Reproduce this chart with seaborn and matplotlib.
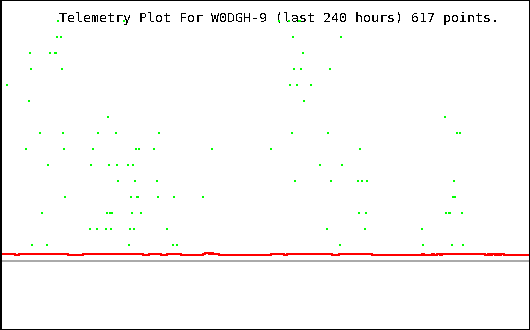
import matplotlib
matplotlib.use("Agg")
import matplotlib.pyplot as plt
import seaborn as sns
import pandas as pd

# ---- data -------------------------------------------------------------
title = "Telemetry Plot For W0DGH-9 (last 240 hours) 617 points."
hours_span = 240

# green sample points: hour position and level
green_hours = [
    26.3, 56.2, 126.3, 130.9, 135.4, 135.8,                 # level 15
    25.8, 27.6, 132.7, 154.4,                               # level 14
    13.6, 22.6, 24.9, 25.4, 137.2,                          # level 13
    14.0, 28.1, 133.1, 136.3, 149.4,                        # level 12
    3.2, 131.3, 134.5, 140.8,                               # level 11
    13.1, 137.7,                                            # level 10
    48.9, 201.5,                                            # level 9
    18.1, 28.5, 44.4, 52.5, 72.0, 132.2, 148.5, 206.9, 208.3,  # level 8
    11.8, 29.0, 42.1, 61.6, 62.9, 69.7, 96.0, 122.7, 163.0,    # level 7
    21.7, 41.2, 49.4, 53.0, 58.0, 60.2, 144.9, 154.9,          # level 6
    53.4, 61.1, 71.1, 133.6, 149.9, 162.1, 163.9, 166.2, 205.6,  # level 5
    29.4, 59.3, 62.0, 62.5, 71.5, 78.8, 91.9, 205.1, 206.0,      # level 4
    19.0, 48.5, 49.8, 50.7, 59.8, 63.8, 162.6, 165.7, 202.0, 203.3, 203.8, 209.2,  # level 3
    40.8, 43.9, 48.0, 50.3, 58.9, 60.7, 75.6, 148.1, 165.3, 191.1,  # level 2
    14.5, 21.3, 58.4, 78.3, 80.2, 154.0, 191.5, 204.7, 209.7,       # level 1
]
green_level = (
    [15] * 6 + [14] * 4 + [13] * 5 + [12] * 5 + [11] * 4 + [10] * 2 + [9] * 2
    + [8] * 9 + [7] * 9 + [6] * 8 + [5] * 9 + [4] * 9 + [3] * 12 + [2] * 10 + [1] * 9
)

# red trace: step change points (hour, value)
red_hours = [0, 6.8, 8.6, 30.8, 37.6, 64.8, 67.5, 72.9, 75.6, 82.0, 91.9, 92.8,
             94.6, 95.5, 96.5, 99.2, 122.7, 128.6, 130.0, 150.3, 153.5, 168.5,
             191.1, 192.0, 195.6, 196.5, 197.9, 199.2, 200.2, 219.6, 221.0,
             221.9, 222.8, 224.2, 225.1, 226.0, 226.9, 228.2, 240]
red_value = [0.44, 0.38, 0.44, 0.38, 0.44, 0.38, 0.44, 0.38, 0.44, 0.38, 0.44, 0.50,
             0.44, 0.50, 0.44, 0.38, 0.44, 0.38, 0.44, 0.38, 0.44, 0.38,
             0.44, 0.38, 0.44, 0.38, 0.44, 0.38, 0.44, 0.38, 0.44,
             0.38, 0.44, 0.38, 0.44, 0.38, 0.44, 0.38, 0.38]

baseline_value = 0.0

# ---- plot -------------------------------------------------------------
sns.set_style("white")
plt.rcParams["text.antialiased"] = False

W, H = 530, 330
fig = plt.figure(figsize=(W / 100, H / 100), dpi=100)
ax = fig.add_axes([0, 0, 1, 1])
ax.set_facecolor("white")

ax.set_xlim(0, hours_span)
ax.set_ylim(-4.3125, 16.3125)

ax.axhline(baseline_value, color="#aaaaaa", lw=1.44, antialiased=False, zorder=1)

red_df = pd.DataFrame({"hour": red_hours, "value": red_value})
sns.lineplot(data=red_df, x="hour", y="value", ax=ax, color="#ff0000",
             drawstyle="steps-post", lw=1.44, antialiased=False, zorder=2,
             legend=False)

green_df = pd.DataFrame({"hour": green_hours, "level": green_level})
rect = [(-0.5, -1), (0.5, -1), (0.5, 1), (-0.5, 1)]
sns.scatterplot(data=green_df, x="hour", y="level", ax=ax, marker=rect,
                s=2.2, color="#00ff00", linewidth=0, antialiased=False,
                zorder=4, legend=False)

ax.text(59 / W, 1 - 22 / H, title, transform=ax.transAxes, ha="left",
        va="baseline", family="DejaVu Sans Mono", fontsize=9.6, color="black",
        zorder=3)

ax.set_xticks([])
ax.set_yticks([])
ax.set_xlabel("")
ax.set_ylabel("")
for name, sp in ax.spines.items():
    sp.set_visible(True)
    sp.set_color("black")
    sp.set_linewidth(2.88 if name == "left" else 1.44)

fig.savefig("out.png", dpi=100, facecolor="white")
